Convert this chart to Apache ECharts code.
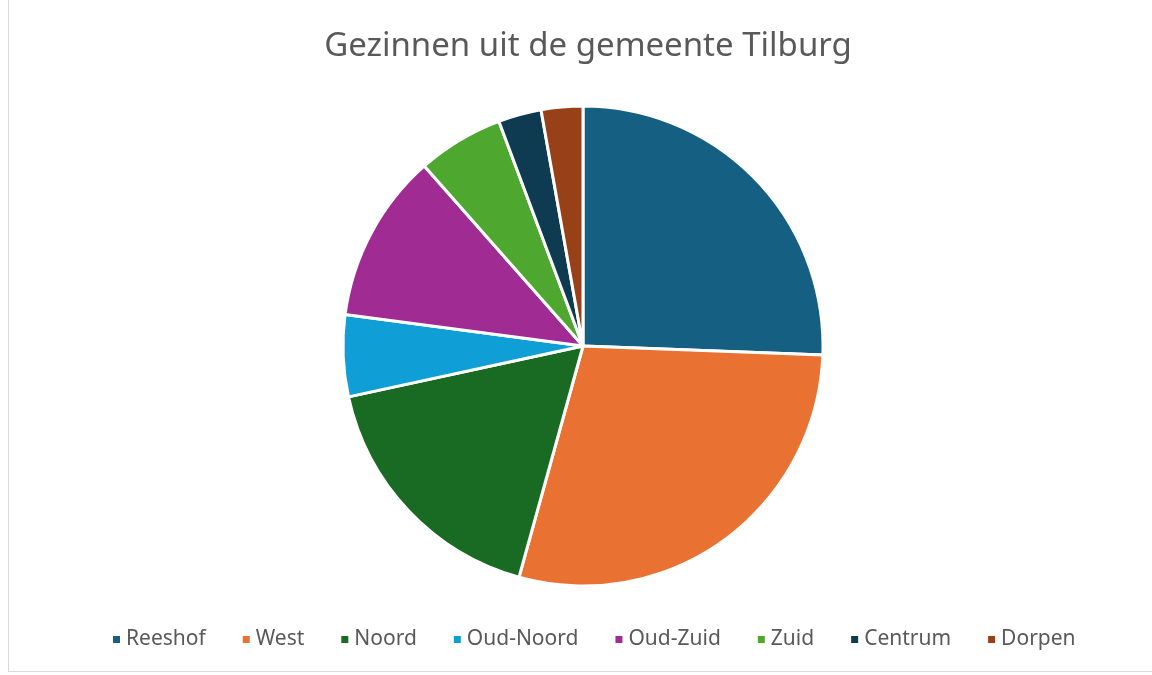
<!DOCTYPE html>
<html>
<head>
<meta charset="utf-8">
<script src="https://cdn.jsdelivr.net/npm/echarts@6/dist/echarts.min.js"></script>
<style>
  html, body { margin: 0; padding: 0; background: #fff; }
  #frame { position: absolute; left: 8px; top: -2px; width: 1150px; height: 674px; border: 1px solid #d9d9d9; box-sizing: border-box; }
  #chart { position: absolute; left: 0; top: 0; width: 1152px; height: 675px; }
</style>
</head>
<body>
<div id="frame"></div>
<div id="chart"></div>
<script>
// wijken en aandelen (%)
const wijken = ['Reeshof', 'West', 'Noord', 'Oud-Noord', 'Oud-Zuid', 'Zuid', 'Centrum', 'Dorpen'];
const aandelen = [25.6, 28.7, 17.3, 5.5, 11.4, 5.8, 2.9, 2.8];
const kleuren = ['#156082', '#E97132', '#196B24', '#0F9ED5', '#A02B93', '#4EA72E', '#0E3A52', '#984017'];

const chart = echarts.init(document.getElementById('chart'));
chart.setOption({
    backgroundColor: 'transparent',
    color: kleuren,
    title: {
        text: 'Gezinnen uit de gemeente Tilburg',
        left: 583,
        top: 25,
        textAlign: 'center',
        textStyle: { fontFamily: 'Noto Sans', fontSize: 33, fontWeight: 'normal', color: '#595959' }
    },
    legend: {
        bottom: 20,
        left: 106,
        icon: 'rect',
        itemWidth: 9,
        itemHeight: 9,
        itemGap: 35,
        textStyle: { fontFamily: 'Noto Sans', fontSize: 21, color: '#595959' },
        data: wijken
    },
    series: [{
        type: 'pie',
        center: [583, 346],
        radius: 240,
        startAngle: 90,
        clockwise: true,
        label: { show: false },
        labelLine: { show: false },
        itemStyle: { borderColor: '#fff', borderWidth: 3 },
        data: wijken.map((w, i) => ({ name: w, value: aandelen[i] }))
    }]
});
</script>
</body>
</html>
